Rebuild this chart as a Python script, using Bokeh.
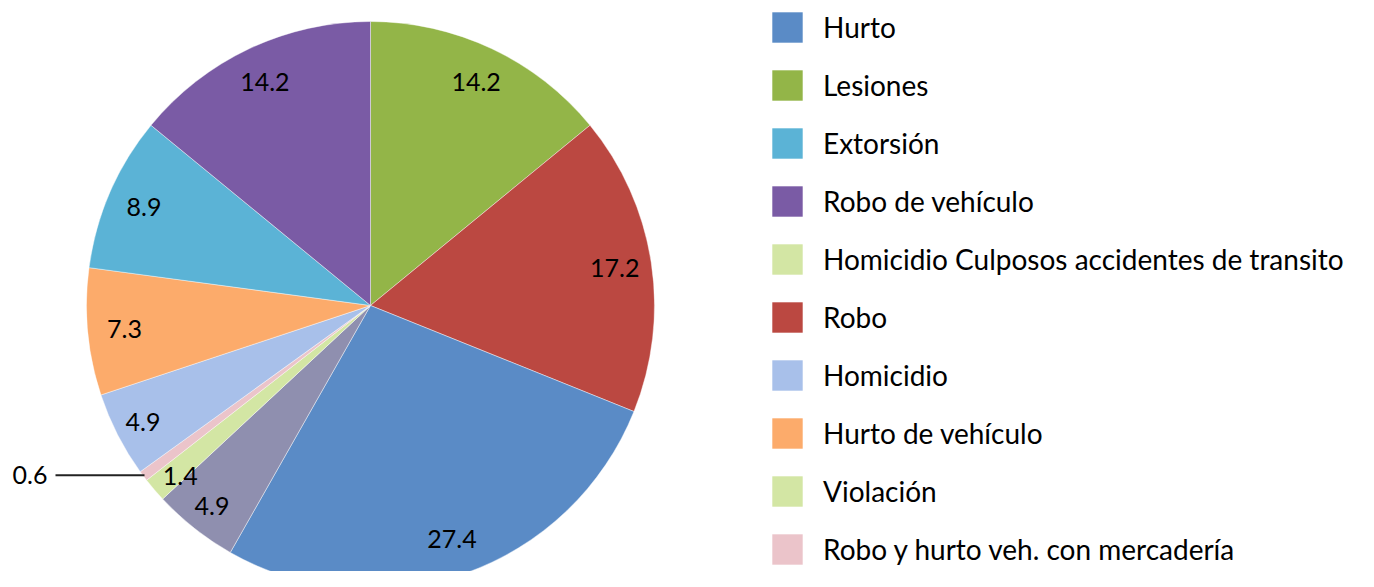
import math
from bokeh.plotting import figure
from bokeh.models import ColumnDataSource, Legend, LegendItem
from bokeh.core.properties import value
from bokeh.embed import file_html
from bokeh.resources import INLINE

# Slices, clockwise from 12 o'clock
slice_names = ["Lesiones", "Robo", "Hurto", "Otros", "Violación",
               "Robo y hurto veh. con mercadería", "Homicidio",
               "Hurto de vehículo", "Extorsión", "Robo de vehículo"]
slice_values = [14.2, 17.2, 27.4, 4.9, 1.4, 0.6, 4.9, 7.3, 8.9, 14.2]
slice_colors = ["#93B548", "#BB4841", "#5A8BC6", "#8F8FAF", "#D3E6A4",
                "#EBC4CA", "#A8C0EA", "#FCAB6B", "#5BB3D6", "#7A5BA5"]

# Legend entries (as shown)
legend_names = ["Hurto", "Lesiones", "Extorsión", "Robo de vehículo",
                "Homicidio Culposos accidentes de transito", "Robo",
                "Homicidio", "Hurto de vehículo", "Violación",
                "Robo y hurto veh. con mercadería"]
legend_colors = ["#5A8BC6", "#93B548", "#5BB3D6", "#7A5BA5", "#D3E6A4",
                 "#BB4841", "#A8C0EA", "#FCAB6B", "#D3E6A4", "#EBC4CA"]

FONT = "Lato"
W, H = 1358, 571
p = figure(width=W, height=H, x_range=(0, W), y_range=(0, H),
           output_backend="svg", toolbar_location=None, min_border=0)
p.axis.visible = False
p.grid.visible = False
p.outline_line_color = None
p.background_fill_color = "white"

cx, cy, R = 370, 266, 284
total = sum(slice_values)
starts, ends, mids = [], [], []
cum = 0.0
for v in slice_values:
    a0 = math.pi / 2 - 2 * math.pi * cum / total
    cum += v
    a1 = math.pi / 2 - 2 * math.pi * cum / total
    starts.append(a0)
    ends.append(a1)
    mids.append((a0 + a1) / 2)

src = ColumnDataSource(dict(start=starts, end=ends, color=slice_colors, name=slice_names))
p.wedge(x=cx, y=cy, radius=R, start_angle="start", end_angle="end",
        direction="clock", fill_color="color", line_color="white",
        line_width=0.6, line_alpha=0.7, source=src)

# inside labels
lx, ly, lt = [], [], []
small_idx = slice_values.index(min(slice_values))
for i, (v, m) in enumerate(zip(slice_values, mids)):
    if i == small_idx:
        continue
    rf = 0.87 if v >= 5 else 0.9
    if v < 2:
        m += 0.025
    lx.append(cx + rf * R * math.cos(m))
    ly.append(cy + rf * R * math.sin(m))
    lt.append(f"{v:.1f}")
p.text(x=lx, y=ly, text=lt, text_align="center", text_baseline="middle",
       text_font=value(FONT), text_font_size="25px", text_color="black")

# outside label with leader line for the smallest slice
m = mids[small_idx]
sx0 = cx + 0.995 * R * math.cos(m)
sy0 = cy + 0.995 * R * math.sin(m)
p.line(x=[sx0, 55], y=[sy0, sy0], line_color="#222222", line_width=2)
p.text(x=[47], y=[sy0], text=[f"{slice_values[small_idx]:.1f}"],
       text_align="right", text_baseline="middle",
       text_font=value(FONT), text_font_size="25px", text_color="black")

# legend (swatches come from a hidden renderer holding the legend colours)
lsrc = ColumnDataSource(dict(color=legend_colors, name=legend_names))
lr = p.wedge(x=cx, y=cy, radius=0, start_angle=0, end_angle=0,
             fill_color="color", line_color=None, source=lsrc, visible=False)
items = [LegendItem(label=n, renderers=[lr], index=i) for i, n in enumerate(legend_names)]
legend = Legend(items=items, location=(768, 3), orientation="vertical",
                glyph_width=38, glyph_height=38, spacing=20, label_standoff=17,
                padding=0, margin=0, border_line_color=None,
                background_fill_alpha=0, label_text_font=FONT,
                label_text_font_size="28px", label_text_color="black")
p.add_layout(legend)

open("out.html", "w").write(file_html(p, INLINE))
